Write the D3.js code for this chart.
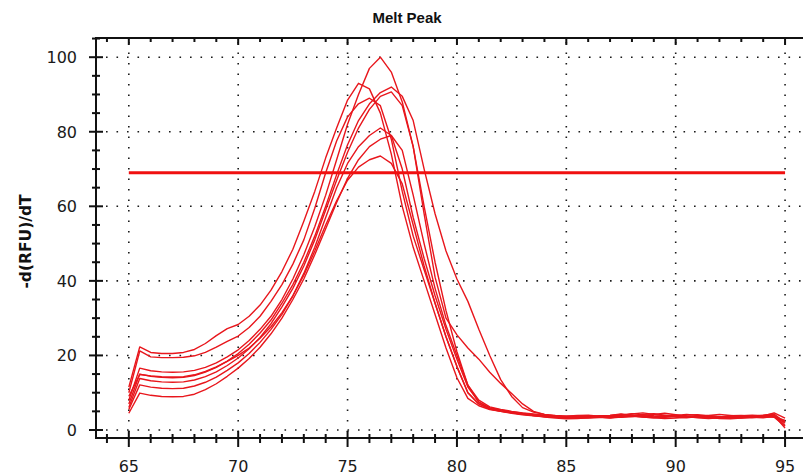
<!DOCTYPE html>
<html><head><meta charset="utf-8">
<script src="https://cdn.jsdelivr.net/npm/d3@7"></script>
<style>body{margin:0;background:#fff}svg{display:block}</style>
</head><body>
<svg id="c" width="803" height="476"></svg>
<script>
// ---- data ----
const temps = [65,65.5,66,66.5,67,67.5,68,68.5,69,69.5,70,70.5,71,71.5,72,72.5,73,73.5,74,74.5,75,75.5,76,76.5,77,77.5,78,78.5,79,79.5,80,80.5,81,81.5,82,82.5,83,83.5,84,84.5,85,85.5,86,86.5,87,87.5,88,88.5,89,89.5,90,90.5,91,91.5,92,92.5,93,93.5,94,94.5,95];
const wellA = [11.5,22.3,20.8,20.5,20.5,20.8,21.6,23.2,25.3,27.2,28.3,30.5,33.5,37.5,42.5,48.5,56,64,73,81,88.5,93,91.5,85,74,60,49,40,31,22,14,8.5,6.5,5.5,5,4.6,4.3,4.0,3.8,3.6,3.5,3.4,3.6,3.8,3.9,4.2,3.9,3.6,3.5,3.8,4.0,3.7,3.5,3.3,3.2,3.4,3.6,3.8,4.0,4.3,2.0];
const wellB = [10,21.2,19.6,19.4,19.4,19.5,19.9,20.8,22.2,23.8,25.2,27.5,30.5,34.5,39,44.5,51,59.5,69,77.5,84,87.5,89,87,78,64,52,43,34,25,17,10,7,5.8,5.2,4.7,4.3,3.9,3.6,3.4,3.3,3.5,3.7,3.6,3.8,4.0,4.4,4.1,3.8,3.6,3.9,4.2,3.9,3.6,3.5,3.3,3.4,3.7,3.9,4.0,1.2];
const wellC = [8,16.6,15.9,15.6,15.5,15.6,16,16.8,18,19.6,21.5,24,27,30.5,35,40.5,47,54.5,63,72.5,82,90,97,100,96,88,76,60,45,32,21,12,7.5,6,5.4,4.9,4.5,4.1,3.8,3.5,3.3,3.2,3.4,3.5,3.7,3.6,3.8,4.2,4.4,4.0,3.6,3.4,3.5,3.8,3.6,3.4,3.2,3.5,3.8,4.6,3.2];
const wellD = [7,15,14.4,14.1,14.0,14.1,14.6,15.5,16.8,18.5,20.5,23,26,29.5,34,39,45,52,60,68.5,76.5,83,87.5,90.5,92,89.5,83,70,58,48,40.5,34.5,27,20,13.5,9,6,4.8,4.2,3.9,3.7,3.5,3.4,3.6,3.9,4.3,4.0,3.7,3.5,3.4,3.7,4.0,4.1,3.8,3.5,3.6,3.4,3.3,3.6,3.9,0.5];
const wellE = [5.5,12.1,11.5,11.2,11.1,11.2,11.8,12.8,14.2,16,18,20.5,23.5,27,31,36,42,49,57,65,71.5,76,79,81,79,70,57,46,36,27,19,11.5,7.5,5.7,5.1,4.6,4.2,3.9,3.5,3.2,3.0,3.1,3.3,3.4,3.2,3.5,3.7,3.5,3.3,3.1,3.2,3.4,3.6,3.4,3.1,3.0,3.2,3.4,3.5,3.8,1.8];
const wellF = [6,13.8,13.2,12.9,12.8,12.9,13.4,14.3,15.6,17.3,19.3,21.8,24.8,28.5,33,38,44,51,59,67,74.5,81,86,89.5,90.7,87,76,58,41,30,25.5,22,19,15.5,12.5,9.8,7,5,4.2,3.8,3.6,3.8,4.0,3.7,3.5,3.4,3.6,3.9,4.2,4.5,4.1,3.7,3.4,3.3,3.5,3.8,3.9,3.6,3.4,3.6,2.6];
const wellG = [4.5,9.9,9.3,9.0,8.9,9.0,9.6,10.8,12.4,14.4,16.6,19.2,22.2,25.8,30,35,40.5,47,54,61,67.5,72.5,76,78,79,75,63,50,38,28,20,12,8,6.2,5.5,5.0,4.6,4.3,4.0,3.7,3.5,3.3,3.2,3.4,3.6,3.9,4.3,4.6,4.2,3.8,3.5,3.3,3.6,3.9,4.2,3.9,3.6,3.4,3.3,3.7,2.3];
const wellH = [9,14.9,14.5,14.3,14.2,14.3,14.8,15.7,16.9,18.4,20,22,24.6,27.7,31.5,36,41.5,48,55,61.5,67,70.5,72.5,73.5,71.5,66,55,44,34,25,17,10,7,5.6,5.0,4.5,4.1,3.8,3.6,3.5,3.7,3.9,3.8,3.5,3.3,3.6,3.8,3.5,3.3,3.5,3.8,3.6,3.3,3.1,3.3,3.6,3.8,4.0,3.7,3.4,1.0];
const threshold = [69];
const thresholdRange = [65, 95];
const xTicks = [65,70,75,80,85,90,95];
const yTicks = [0,20,40,60,80,100];
const title = "Melt Peak";
const yTitle = "-d(RFU)/dT";

const wells = [wellA, wellB, wellC, wellD, wellE, wellF, wellG, wellH];

// ---- scales ----
const svg = d3.select("#c");
const x = d3.scaleLinear().domain([63.5, 95.82]).range([96, 803]);
const y = d3.scaleLinear().domain([-2.15, 105.15]).range([438, 38]);
const x0 = x.range()[0], x1 = x.range()[1];
const yTop = y.range()[1], yBot = y.range()[0];

svg.append("rect").attr("width",803).attr("height",476).attr("fill","#fff");

// grid
const grid = svg.append("g").attr("stroke","#1a1a1a").attr("stroke-width",1.6)
  .attr("stroke-dasharray","1.6,8.9");
grid.selectAll(".vg").data(xTicks).join("line")
  .attr("x1",d=>x(d)).attr("x2",d=>x(d)).attr("y1",yTop+4).attr("y2",yBot);
grid.selectAll(".hg").data(yTicks).join("line")
  .attr("y1",d=>y(d)).attr("y2",d=>y(d)).attr("x1",x0+10).attr("x2",x1);

// curves
const line = d3.line().x((d,i)=>x(temps[i])).y(d=>y(d));
svg.append("g").selectAll("path").data(wells).join("path")
  .attr("d", line).attr("fill","none").attr("stroke","#e8161c")
  .attr("stroke-width",1.4).attr("stroke-linejoin","round");

// threshold
svg.selectAll(".thr").data(threshold).join("line")
  .attr("x1",x(thresholdRange[0])).attr("x2",x(thresholdRange[1]))
  .attr("y1",d=>y(d)).attr("y2",d=>y(d))
  .attr("stroke","#f01010").attr("stroke-width",3);

// axes
const ax = svg.append("g").attr("stroke","#111").attr("stroke-width",2);
ax.append("line").attr("x1",x0).attr("x2",x0).attr("y1",yTop).attr("y2",yBot);
ax.append("line").attr("x1",x0-1).attr("x2",x1).attr("y1",yBot).attr("y2",yBot);
ax.append("line").attr("x1",x0-1).attr("x2",x1).attr("y1",yTop).attr("y2",yTop);

const xMinor = d3.range(64, 96, 1).filter(v=>!xTicks.includes(v));
const yMinor = d3.range(5, 106, 5).filter(v=>!yTicks.includes(v));

// bottom ticks
ax.selectAll(".bM").data(xTicks).join("line")
  .attr("x1",d=>x(d)).attr("x2",d=>x(d)).attr("y1",yBot-7).attr("y2",yBot+9);
ax.selectAll(".bm").data(xMinor).join("line")
  .attr("x1",d=>x(d)).attr("x2",d=>x(d)).attr("y1",yBot-4).attr("y2",yBot+5);
// top ticks
ax.selectAll(".tM").data(xTicks).join("line")
  .attr("x1",d=>x(d)).attr("x2",d=>x(d)).attr("y1",yTop).attr("y2",yTop+7);
ax.selectAll(".tm").data(xMinor).join("line")
  .attr("x1",d=>x(d)).attr("x2",d=>x(d)).attr("y1",yTop).attr("y2",yTop+4);
// left ticks
ax.selectAll(".lM").data(yTicks).join("line")
  .attr("y1",d=>y(d)).attr("y2",d=>y(d)).attr("x1",x0-7).attr("x2",x0+7);
ax.selectAll(".lm").data(yMinor).join("line")
  .attr("y1",d=>y(d)).attr("y2",d=>y(d)).attr("x1",x0-4).attr("x2",x0+4);

// labels
const lab = svg.append("g").attr("font-family","'DejaVu Sans', Verdana, sans-serif")
  .attr("font-size",16).attr("fill","#1a1a1a");
lab.selectAll(".xl").data(xTicks).join("text")
  .attr("x",d=>x(d)).attr("y",471.5).attr("text-anchor","middle").text(d=>d);
lab.selectAll(".yl").data(yTicks).join("text")
  .attr("x",77).attr("y",d=>y(d)+5.8).attr("text-anchor","end").text(d=>d);

svg.append("text").attr("x",407).attr("y",23).attr("text-anchor","middle")
  .attr("font-family","'Liberation Sans', Arial, sans-serif").attr("font-weight","bold")
  .attr("font-size",15).attr("fill","#111").text(title);

svg.append("text").attr("transform","translate(31,241.5) rotate(-90)")
  .attr("text-anchor","middle")
  .attr("font-family","'DejaVu Sans', Verdana, sans-serif").attr("font-weight","bold")
  .attr("font-size",15.5).attr("fill","#111").text(yTitle);
</script>
</body></html>
